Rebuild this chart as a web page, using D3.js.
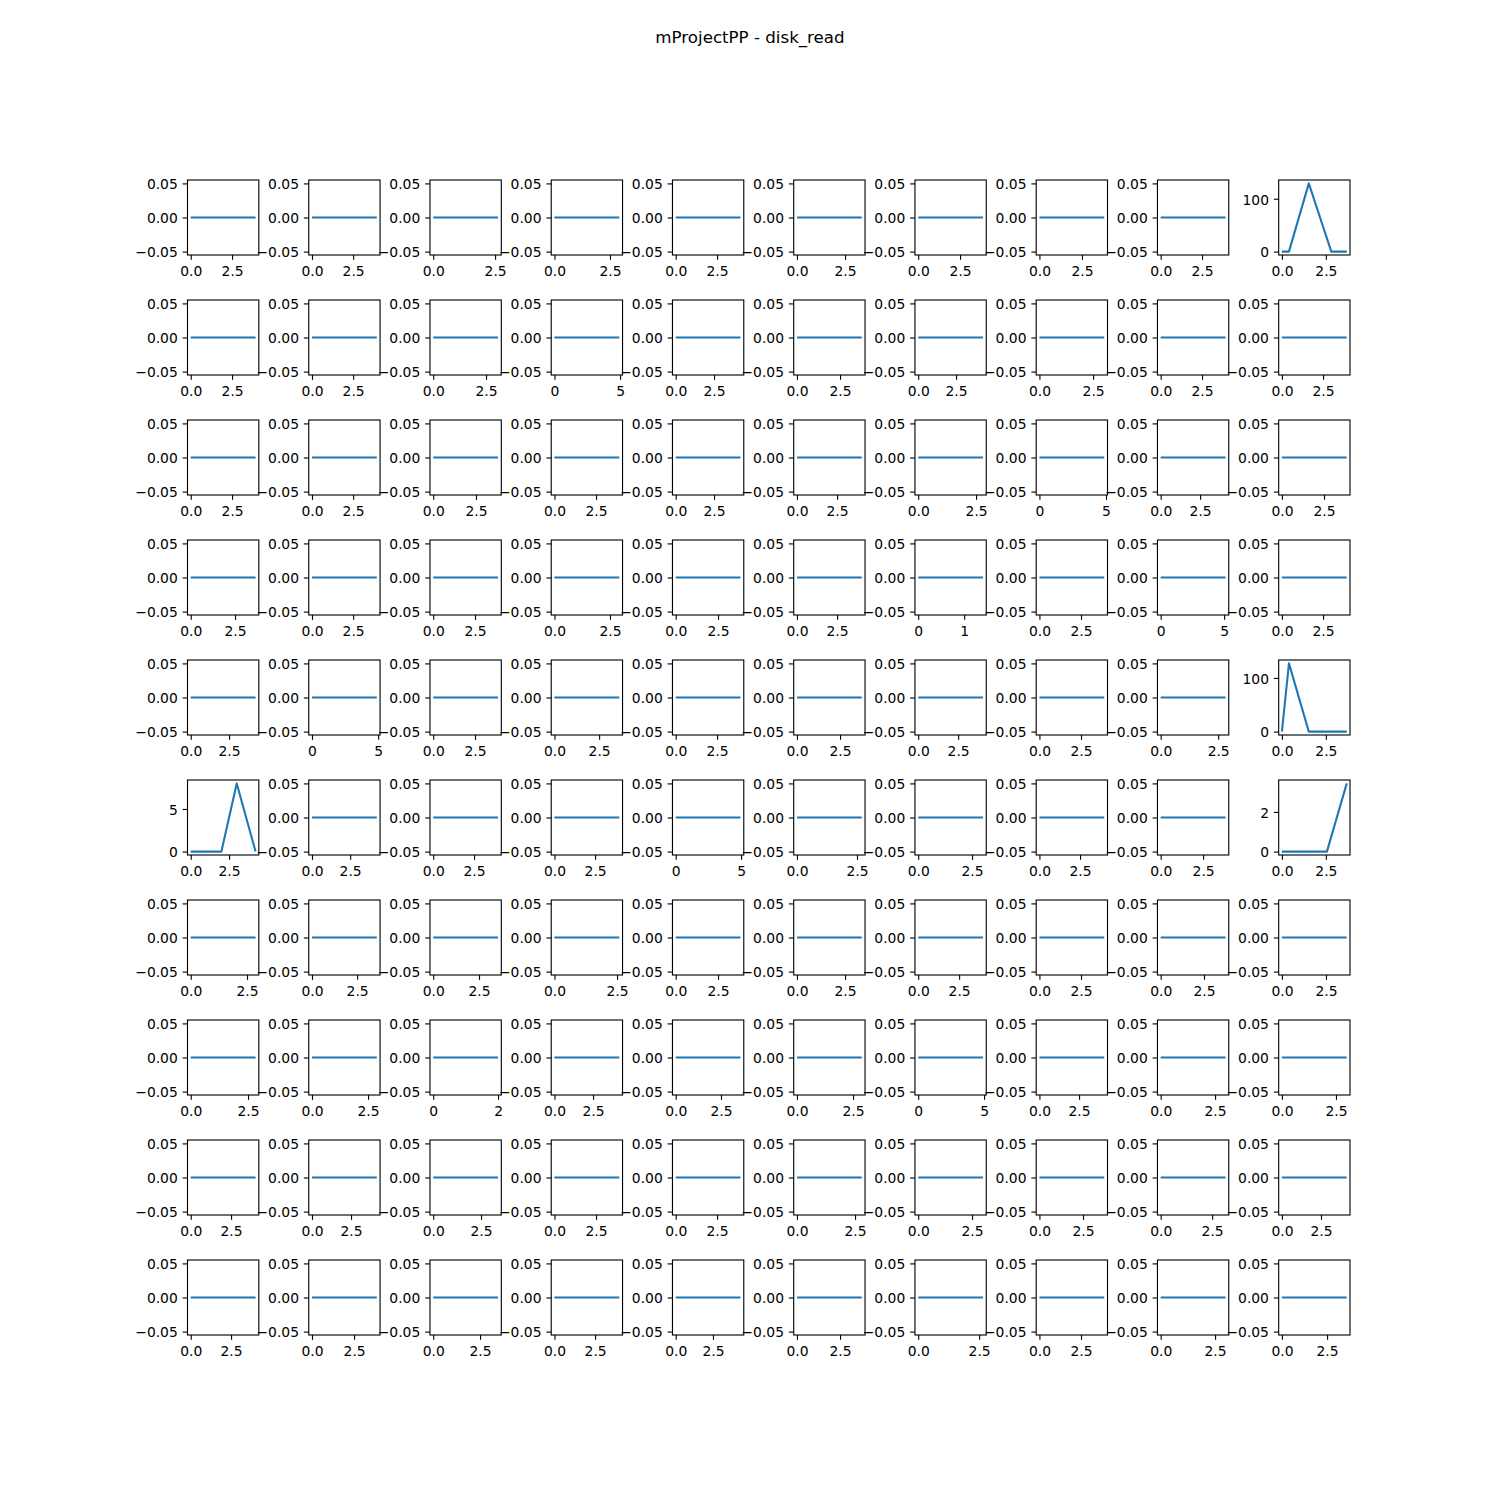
<!DOCTYPE html>
<html>
<head>
<meta charset="utf-8">
<script src="https://cdn.jsdelivr.net/npm/d3@7"></script>
<style>
  html, body { margin: 0; padding: 0; background: #fff; }
  svg text { font-family: "DejaVu Sans", sans-serif; }
</style>
</head>
<body>
<svg id="chart" width="1500" height="1500"></svg>
<script>
// ---------------- data ----------------
const chartTitle = "mProjectPP - disk_read";
const nRows = 10, nCols = 10;

// time span (x max) of each panel, row-major
const xSpans = [
  3.92, 3.94, 2.62, 2.92, 3.92, 3.37, 3.87, 3.81, 3.92, 3.69,
  3.92, 3.94, 3.07, 4.94, 4.23, 3.76, 4.28, 3.02, 3.92, 3.94,
  3.92, 3.94, 3.79, 3.90, 4.23, 4.04, 2.80, 4.87, 4.11, 3.85,
  3.66, 3.94, 3.88, 2.92, 3.83, 4.04, 1.41, 3.90, 5.11, 3.94,
  4.23, 4.90, 3.88, 3.63, 3.92, 3.76, 4.06, 3.90, 2.82, 3.69,
  4.23, 4.25, 3.97, 3.99, 4.96, 2.70, 3.01, 3.99, 3.82, 3.69,
  2.88, 3.59, 3.54, 2.59, 3.83, 3.37, 3.96, 3.90, 3.74, 3.68,
  2.83, 2.89, 2.00, 4.20, 3.58, 2.89, 4.92, 4.09, 2.98, 3.00,
  4.02, 4.15, 3.39, 3.90, 3.92, 2.79, 3.01, 3.72, 3.15, 4.15,
  4.02, 3.85, 3.46, 3.99, 4.35, 3.76, 2.66, 3.90, 2.98, 3.59
];

// panels whose disk_read is not constantly zero
const specialX = {
  9:  [0, 0.40, 1.53, 2.81, 3.69],
  49: [0, 0.40, 1.53, 2.81, 3.69],
  50: [0, 1.00, 2.00, 3.00, 4.23],
  59: [0, 0.40, 1.53, 2.56, 3.69]
};
const specialY = {
  9:  [0, 0, 129, 0, 0],
  49: [0, 127, 0, 0, 0],
  50: [0, 0, 0, 8.0, 0],
  59: [0, 0, 0, 0, 3.44]
};
const flatValue = 0;

// ---------------- layout ----------------
const W = 1500, H = 1500;
const figL = 0.125 * W, figR = 0.9 * W, figT = (1 - 0.88) * H, figB = (1 - 0.11) * H;
const wspace = 0.7, hspace = 0.6;
const cellW = (figR - figL) / (nCols + (nCols - 1) * wspace);
const cellH = (figB - figT) / (nRows + (nRows - 1) * hspace);
const pt = 100 / 72;
const fontPx = 10 * pt;
const tickLen = 3.5 * pt, tickPad = 3.5 * pt;
const lineColor = "#1f77b4";

// matplotlib-like MaxNLocator
function maxNTicks(vmin, vmax, nbins) {
  const stair = [0.1, 0.2, 0.25, 0.5, 1, 2, 2.5, 5, 10, 20];
  const dv = vmax - vmin;
  const scale = Math.pow(10, Math.floor(Math.log10(dv / nbins)));
  const steps = stair.map(s => s * scale);
  const raw = dv / nbins;
  let istep = steps.findIndex(s => s >= raw - 1e-12);
  let ticks = [];
  for (let i = istep; i >= 0; i--) {
    const step = steps[i];
    const bmin = Math.floor(vmin / step) * step;
    const t = [];
    for (let k = 0; k < 50; k++) {
      const v = bmin + k * step;
      if (v > vmax + 1e-10) break;
      if (v >= vmin - 1e-10) t.push(Math.round(v / step) * step);
    }
    ticks = t;
    if (t.length >= 2) break;
  }
  return ticks;
}
function fmtTicks(ticks) {
  let d = 0;
  for (; d < 6; d++) {
    if (ticks.every(v => Math.abs(+v.toFixed(d) - v) < 1e-9)) break;
  }
  return v => {
    const s = (Math.abs(v) < 1e-12 ? 0 : v).toFixed(d);
    return s.replace("-", "\u2212");
  };
}

const svg = d3.select("#chart");

svg.append("text")
  .attr("x", W / 2).attr("y", 30 + 0.76 * 12 * pt)
  .attr("text-anchor", "middle")
  .attr("font-size", 12 * pt)
  .text(chartTitle);

for (let i = 0; i < nRows * nCols; i++) {
  const r = Math.floor(i / nCols), c = i % nCols;
  const x0 = figL + c * cellW * (1 + wspace);
  const y0 = figT + r * cellH * (1 + hspace);

  const xs = specialX[i] || [0, xSpans[i]];
  const ys = specialY[i] || [flatValue, flatValue];
  const pts = xs.map((x, k) => [x, ys[k]]);

  let xmin = d3.min(xs), xmax = d3.max(xs);
  let ymin = d3.min(ys), ymax = d3.max(ys);
  if (ymax === ymin) { ymin -= 0.05; ymax += 0.05; }
  const xm = 0.05 * (xmax - xmin), ym = 0.05 * (ymax - ymin);
  const xDom = [xmin - xm, xmax + xm], yDom = [ymin - ym, ymax + ym];

  const xScale = d3.scaleLinear().domain(xDom).range([0, cellW]);
  const yScale = d3.scaleLinear().domain(yDom).range([cellH, 0]);

  const g = svg.append("g").attr("transform", `translate(${x0},${y0})`);

  g.append("path")
    .datum(pts)
    .attr("fill", "none")
    .attr("stroke", lineColor)
    .attr("stroke-width", 1.5 * pt)
    .attr("stroke-linejoin", "round")
    .attr("stroke-linecap", "butt")
    .attr("d", d3.line().x(d => xScale(d[0])).y(d => yScale(d[1])));

  const xt = maxNTicks(xDom[0], xDom[1], 1);
  const yt = maxNTicks(yDom[0], yDom[1], 2);

  const xAxis = d3.axisBottom(xScale).tickValues(xt).tickFormat(fmtTicks(xt))
    .tickSize(tickLen).tickPadding(tickPad).tickSizeOuter(0);
  const yAxis = d3.axisLeft(yScale).tickValues(yt).tickFormat(fmtTicks(yt))
    .tickSize(tickLen).tickPadding(tickPad).tickSizeOuter(0);

  const gx = g.append("g").attr("transform", `translate(0,${cellH})`).call(xAxis);
  const gy = g.append("g").call(yAxis);
  [gx, gy].forEach(a => {
    a.select(".domain").remove();
    a.selectAll("line").attr("stroke", "#000").attr("stroke-width", 0.8 * pt);
    a.selectAll("text").attr("font-size", fontPx).attr("fill", "#000")
      .attr("font-family", "DejaVu Sans");
  });
  gx.selectAll("text").attr("dy", "0.8em");
  gy.selectAll("text").attr("dy", "0.38em");

  g.append("rect")
    .attr("x", 0).attr("y", 0).attr("width", cellW).attr("height", cellH)
    .attr("fill", "none").attr("stroke", "#000").attr("stroke-width", 0.8 * pt);
}
</script>
</body>
</html>
